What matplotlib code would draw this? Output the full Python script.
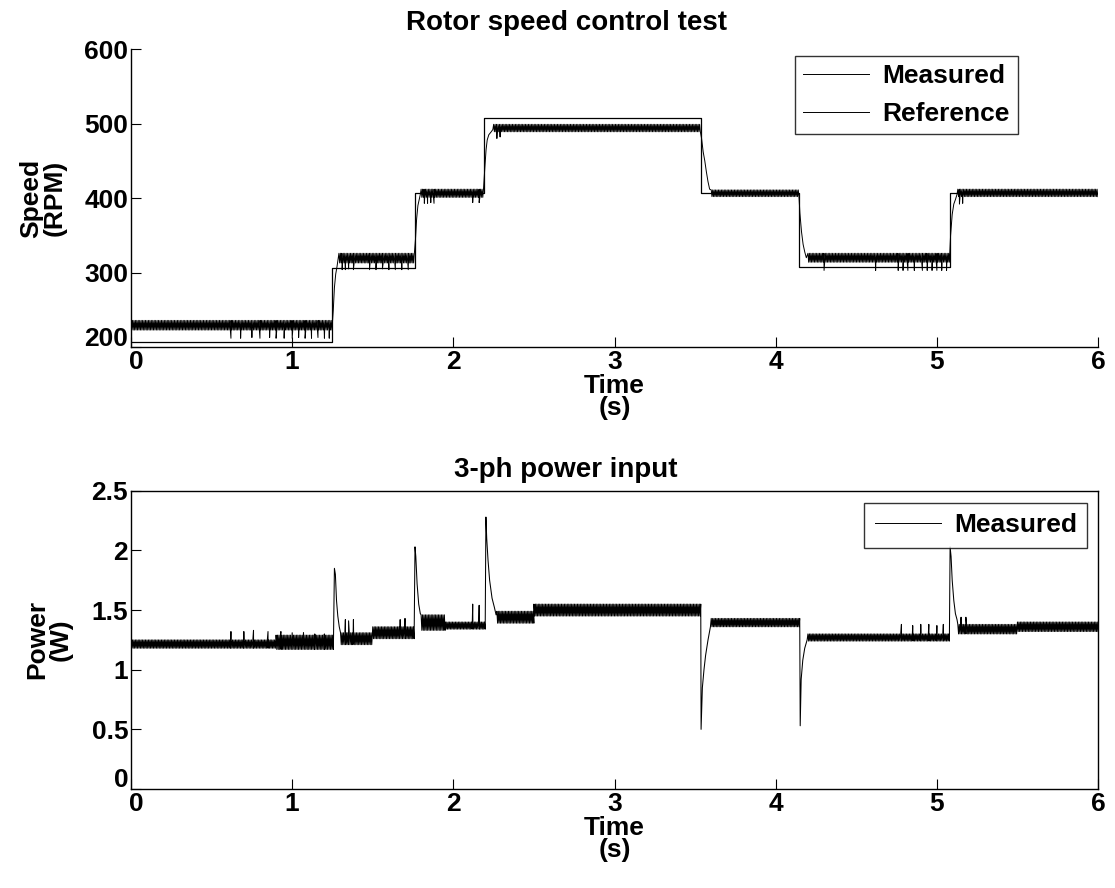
import numpy as np
import matplotlib
matplotlib.use("Agg")
import matplotlib.pyplot as plt
import matplotlib.transforms as mtransforms

plt.rcParams['font.family'] = ['Liberation Sans', 'DejaVu Sans']
plt.rcParams['font.weight'] = 'bold'

# ---- speed reference (step times and levels, RPM)
ref_t = [0.0, 1.25, 1.76, 2.19, 3.535, 4.145, 5.08, 6.0]
ref_v = [207, 306, 407, 507, 407, 308, 407, 407]

# ---- measured speed: steady bands (start, end, upper, lower)
spd_seg_t0 = [0.0, 1.29, 1.80, 2.25, 3.60, 4.20, 5.13]
spd_seg_t1 = [1.25, 1.76, 2.19, 3.535, 4.145, 5.08, 6.0]
spd_hi = [236, 326, 412, 499, 411, 326, 412]
spd_lo = [223, 313, 401, 489, 402, 314, 402]
# occasional low samples
spd_dip_t = [0.62, 0.68, 0.75, 0.80, 0.86, 0.90, 0.95, 1.00, 1.04, 1.08, 1.12, 1.16, 1.20, 1.23,
             1.31, 1.33, 1.35, 1.38, 1.48, 1.52, 1.56, 1.60, 1.64, 1.68, 1.72,
             1.82, 1.84, 1.86, 1.88, 2.12, 2.16, 2.27, 2.29,
             4.30, 4.62, 4.76, 4.79, 4.82, 4.86, 4.91, 4.94, 4.97, 5.00, 5.03, 5.06,
             5.14, 5.16]
spd_dip_v = [212, 212, 213, 212, 213, 212, 212, 212, 213, 212, 212, 213, 212, 212,
             304, 304, 305, 304, 304, 304, 305, 304, 304, 304, 304,
             393, 393, 394, 393, 394, 394, 480, 482,
             303, 303, 303, 303, 303, 303, 303, 303, 303, 303, 303, 303,
             392, 393]
# transients after each step
spd_tr_t = [1.255, 1.262, 1.27, 1.278, 1.285,
            1.765, 1.772, 1.78, 1.788, 1.795,
            2.195, 2.203, 2.21, 2.22, 2.235, 2.245,
            3.54, 3.55, 3.56, 3.57, 3.58, 3.59,
            4.15, 4.16, 4.17, 4.18, 4.19,
            5.085, 5.095, 5.105, 5.115, 5.125]
spd_tr_v = [250, 280, 298, 308, 318,
            345, 372, 390, 398, 405,
            440, 465, 478, 485, 489, 492,
            480, 462, 450, 435, 422, 412,
            380, 355, 338, 328, 320,
            350, 378, 392, 398, 405]

# ---- measured power: steady bands (start, end, upper, lower)
pw_seg_t0 = [0.0, 0.90, 1.30, 1.50, 1.80, 1.95, 2.27, 2.50, 3.60, 4.20, 5.13, 5.50]
pw_seg_t1 = [0.90, 1.26, 1.50, 1.76, 1.95, 2.20, 2.50, 3.535, 4.15, 5.08, 5.50, 6.0]
pw_hi = [1.25, 1.29, 1.31, 1.36, 1.46, 1.40, 1.49, 1.55, 1.43, 1.30, 1.38, 1.40]
pw_lo = [1.18, 1.17, 1.21, 1.26, 1.33, 1.34, 1.39, 1.45, 1.36, 1.24, 1.30, 1.32]
pw_spk_t = [0.62, 0.70, 0.76, 0.85, 0.93, 1.00, 1.07, 1.14, 1.20,
            1.33, 1.35, 1.38, 1.67, 1.70, 2.12, 2.16,
            4.78, 4.85, 4.90, 4.95, 5.00, 5.04, 5.15, 5.18]
pw_spk_v = [1.32, 1.32, 1.33, 1.32, 1.32, 1.31, 1.31, 1.30, 1.30,
            1.42, 1.41, 1.42, 1.42, 1.43, 1.55, 1.54,
            1.38, 1.37, 1.38, 1.38, 1.37, 1.38, 1.44, 1.44]
pw_tr_t = [1.262, 1.268, 1.275, 1.283, 1.292,
           1.762, 1.767, 1.775, 1.785, 1.795,
           2.202, 2.207, 2.215, 2.225, 2.24, 2.255, 2.265,
           3.537, 3.545, 3.555, 3.565, 3.58, 3.595,
           4.152, 4.158, 4.168, 4.18, 4.195,
           5.082, 5.088, 5.095, 5.105, 5.115, 5.125]
pw_tr_v = [1.85, 1.8, 1.58, 1.45, 1.36,
           2.03, 1.95, 1.72, 1.55, 1.47,
           2.28, 2.1, 1.92, 1.75, 1.6, 1.52, 1.46,
           0.50, 0.85, 1.0, 1.12, 1.25, 1.36,
           0.53, 0.92, 1.08, 1.18, 1.25,
           2.03, 1.95, 1.75, 1.58, 1.47, 1.42]


def build(t0s, t1s, his, los, extra_t, extra_v, dt=0.0045):
    # steady parts toggle between read upper/lower band edges
    pts = []
    for a, b, hi, lo in zip(t0s, t1s, his, los):
        tt = np.arange(a, b, dt)
        for k, t in enumerate(tt):
            pts.append((t, hi if k % 2 == 0 else lo))
    pts += list(zip(extra_t, extra_v))
    pts.sort()
    t = np.array([p[0] for p in pts])
    v = np.array([p[1] for p in pts])
    return t, v


st, sv = build(spd_seg_t0, spd_seg_t1, spd_hi, spd_lo,
               spd_dip_t + spd_tr_t, spd_dip_v + spd_tr_v)
pt, pv = build(pw_seg_t0, pw_seg_t1, pw_hi, pw_lo,
               pw_spk_t + pw_tr_t, pw_spk_v + pw_tr_v)

fig = plt.figure(figsize=(11.15, 8.88), dpi=100)
ax1 = fig.add_axes([0.1175, 0.609, 0.8673, 0.3358])
ax2 = fig.add_axes([0.1175, 0.1115, 0.8673, 0.3358])

fs = 19
tfs = 20
ax1.plot(st, sv, color='black', lw=0.7, label='Measured')
ax1.step(ref_t, ref_v, where='post', color='black', lw=0.9, label='Reference')
ax1.set_xlim(0, 6)
ax1.set_ylim(200, 600)
ax1.set_yticks([200, 300, 400, 500, 600])
ax1.set_title('Rotor speed control test', fontsize=tfs, fontweight='bold', pad=14, x=0.45)
ax1.set_xlabel('Time\n(s)', fontsize=fs, fontweight='bold', labelpad=0, linespacing=0.9)
ax1.set_ylabel('Speed\n(RPM)', fontsize=fs, fontweight='bold', labelpad=13, linespacing=0.95)
ax1.spines['top'].set_visible(False)
ax1.spines['right'].set_visible(False)
leg1 = ax1.legend(loc='upper right', bbox_to_anchor=(0.917, 0.977), fontsize=fs,
                  frameon=True, fancybox=False, edgecolor='black', handlelength=2.5,
                  borderaxespad=0, borderpad=0.3, labelspacing=0.55, handletextpad=0.5)
leg1.get_frame().set_linewidth(1.0)
for h in leg1.get_lines():
    h.set_linewidth(0.7)

ax2.plot(pt, pv, color='black', lw=0.75, label='Measured')
ax2.set_xlim(0, 6)
ax2.set_ylim(0, 2.5)
ax2.set_yticks([0, 0.5, 1, 1.5, 2, 2.5])
ax2.set_yticklabels(['0', '0.5', '1', '1.5', '2', '2.5'])
ax2.set_title('3-ph power input', fontsize=tfs, fontweight='bold', pad=10, x=0.45)
ax2.set_xlabel('Time\n(s)', fontsize=fs, fontweight='bold', labelpad=0, linespacing=0.9)
ax2.set_ylabel('Power\n(W)', fontsize=fs, fontweight='bold', labelpad=14, linespacing=0.95)
leg2 = ax2.legend(loc='upper right', bbox_to_anchor=(0.989, 0.96), fontsize=fs,
                  frameon=True, fancybox=False, edgecolor='black', handlelength=2.5,
                  borderaxespad=0, borderpad=0.4, handletextpad=0.5)
leg2.get_frame().set_linewidth(1.0)
for h in leg2.get_lines():
    h.set_linewidth(0.7)

for ax in (ax1, ax2):
    ax.set_xticks([0, 1, 2, 3, 4, 5, 6])
    ax.tick_params(direction='in', length=7, width=0.8, labelsize=fs, pad=2)
    for lab in ax.get_xticklabels() + ax.get_yticklabels():
        lab.set_fontweight('bold')
    for s in ax.spines.values():
        s.set_linewidth(1.0)
    # lowest y label sits a little higher, first x label a little to the right
    ylab0 = ax.get_yticklabels()[0]
    ylab0.set_transform(ylab0.get_transform() +
                        mtransforms.ScaledTranslation(0, 8 / 72, fig.dpi_scale_trans))
    xlab0 = ax.get_xticklabels()[0]
    xlab0.set_transform(xlab0.get_transform() +
                        mtransforms.ScaledTranslation(4 / 72, 0, fig.dpi_scale_trans))

fig.savefig('out.png', dpi=100)
